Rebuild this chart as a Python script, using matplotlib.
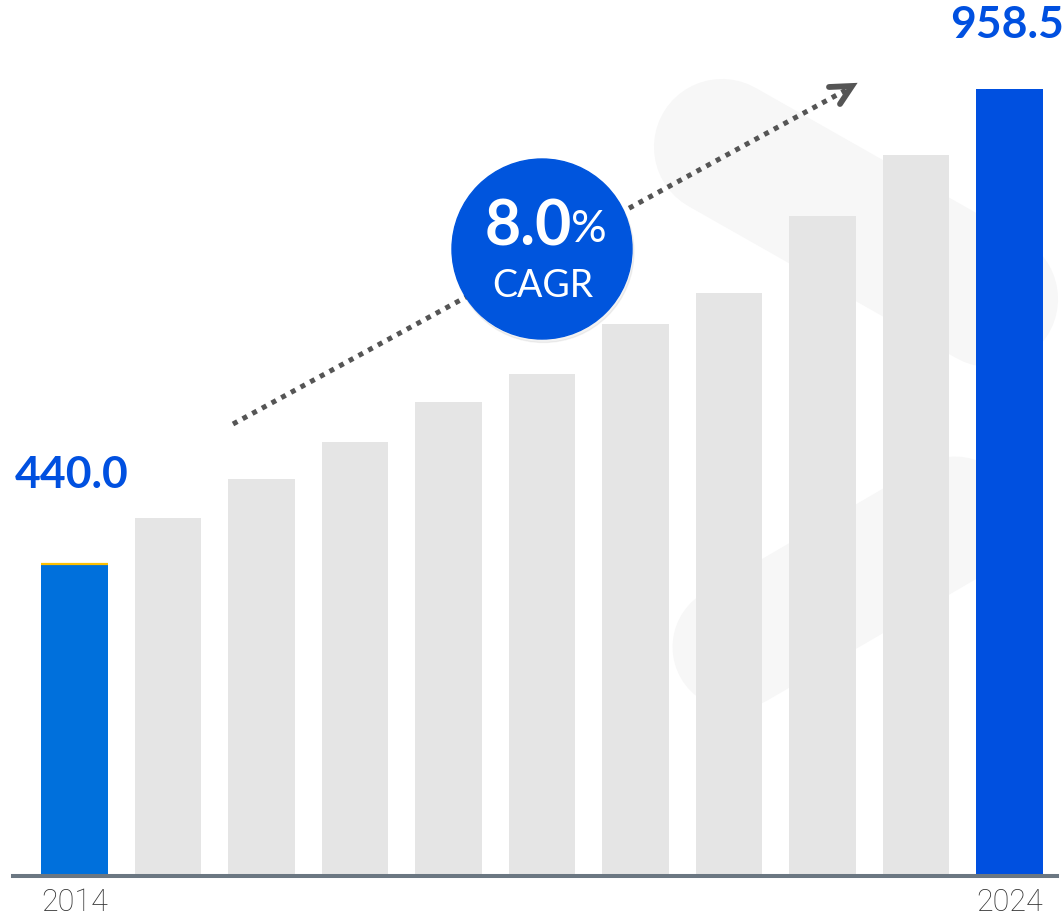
"""Bar chart of yearly values, 2014 to 2024, with a CAGR badge."""

import matplotlib
matplotlib.use("Agg")
import matplotlib.pyplot as plt
from matplotlib.patches import Circle
from matplotlib.lines import Line2D

years = list(range(2014, 2025))
values = [440.0, 490, 533, 573, 617, 647, 702, 736, 820, 886, 958.5]
shown_ticks = {0: "2014", 10: "2024"}
cagr_text = "8.0"
cagr_sub = "CAGR"

GREY = "#e5e5e5"
BLUE_FIRST = "#0070dc"
BLUE_LAST = "#0050e0"
LABEL_BLUE = "#0050e0"

W, H = 1064, 920
fig = plt.figure(figsize=(W / 100, H / 100), dpi=100)
ax = fig.add_axes([13 / W, 43 / H, 1044 / W, 877 / H])
ax.patch.set_alpha(0)

inch = fig.dpi_scale_trans


def px(x, y):
    # picture pixels (top-left origin) -> inches for dpi_scale_trans
    return x / 100, (H - y) / 100


# faint background bands (logo-like shapes)
for (x0, y0), (x1, y1), lw in [((722, 148), (990, 300), 98),
                               ((735, 648), (955, 520), 90)]:
    a, b = px(x0, y0)
    c, d = px(x1, y1)
    ax.add_line(Line2D([a, c], [b, d], transform=inch, color="#f7f7f7",
                       lw=lw, solid_capstyle="round", zorder=0, clip_on=False))

x = list(range(len(years)))
colors = [GREY] * len(values)
colors[0] = BLUE_FIRST
colors[-1] = BLUE_LAST
ax.bar(x, values, width=0.716, color=colors, zorder=2)
# thin yellow cap on the first bar
ax.plot([-0.358, 0.358], [values[0], values[0]], color="#ffc000", lw=1.6,
        solid_capstyle="butt", zorder=3)

ax.set_xlim(-0.658, 10.508)
ax.set_ylim(99.3, 1056.7)

for s in ["top", "right", "left"]:
    ax.spines[s].set_visible(False)
ax.spines["bottom"].set_color("#6b7782")
ax.spines["bottom"].set_linewidth(2.9)
ax.set_yticks([])
ax.set_xticks(list(shown_ticks.keys()))
ax.set_xticklabels(list(shown_ticks.values()), color="#333333", fontsize=22,
                   family="Roboto", fontweight="light")
ax.tick_params(axis="x", length=0, pad=8)

# value labels at the two ends
ax.annotate(f"{values[0]:.1f}", (x[0], values[0]), xytext=(-2, 65),
            textcoords="offset points", ha="center", va="center",
            fontsize=32, fontweight="bold", color=LABEL_BLUE, family="Lato")
ax.annotate(f"{values[-1]:.1f}", (x[-1], values[-1]), xytext=(-2, 47),
            textcoords="offset points", ha="center", va="center",
            fontsize=32, fontweight="bold", color=LABEL_BLUE, family="Lato",
            annotation_clip=False)

# dotted trend arrow
a, b = px(233, 425)
c, d = px(846, 91)
ax.add_line(Line2D([a, c], [b, d], transform=inch, color="#555555", lw=3.6,
                   linestyle=(0, (1, 1.2)), dash_capstyle="butt", zorder=4,
                   clip_on=False))
hx, hy = zip(px(829, 88), px(852, 87), px(840, 105))
ax.add_line(Line2D(hx, hy, transform=inch, color="#555555", lw=4.2,
                   solid_joinstyle="miter", solid_capstyle="round", zorder=4,
                   clip_on=False))

# CAGR badge
cx, cy = px(542, 250)
ax.add_patch(Circle((cx + 0.015, cy - 0.03), 0.905, transform=inch,
                    color="#000000", alpha=0.05, zorder=5, clip_on=False))
ax.add_patch(Circle((cx, cy), 0.90, transform=inch, color="#0055dd",
                    zorder=6, clip_on=False))
tx, ty = px(543, 228)
fig.text(tx - 0.15, ty, cagr_text, transform=inch, ha="center", va="center",
         fontsize=45, fontweight="bold", color="white", family="Lato", zorder=7)
tx2, ty2 = px(589, 230)
fig.text(tx2, ty2, "%", transform=inch, ha="center", va="center",
         fontsize=32, color="white", family="Lato", zorder=7)
tx3, ty3 = px(543, 286)
fig.text(tx3, ty3, cagr_sub, transform=inch, ha="center", va="center",
         fontsize=27, color="white", family="Lato", zorder=7)

fig.savefig("out.png", dpi=100)
